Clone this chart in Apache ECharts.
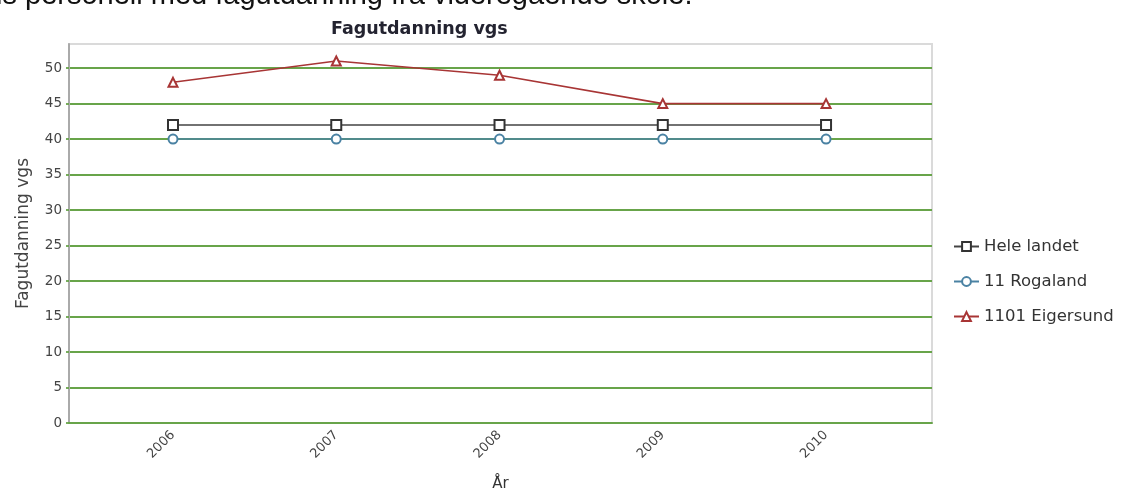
<!DOCTYPE html>
<html>
<head>
<meta charset="utf-8">
<script src="https://cdn.jsdelivr.net/npm/echarts@6/dist/echarts.min.js"></script>
<style>
html,body{margin:0;padding:0;background:#fff;}
#chart{width:1122px;height:494px;}
</style>
</head>
<body>
<div id="chart"></div>
<script>
const years = [2006, 2007, 2008, 2009, 2010];
const heleLandet = [42, 42, 42, 42, 42];
const rogaland = [40, 40, 40, 40, 40];
const eigersund = [48, 51, 49, 45, 45];
const seriesNames = ['Hele landet', '11 Rogaland', '1101 Eigersund'];
const yTicks = [0, 5, 10, 15, 20, 25, 30, 35, 40, 45, 50];

const pairs = vals => years.map((y, i) => [y, vals[i]]);
const green = '#68a44a';
const font = 'DejaVu Sans';

const chart = echarts.init(document.getElementById('chart'));
chart.setOption({
  animation: false,
  backgroundColor: '#fff',
  title: {
    text: 'Fagutdanning vgs',
    left: 326, top: 15,
    textStyle: {fontFamily: font, fontSize: 17.5, fontWeight: 'bold', color: '#232330'}
  },
  graphic: [
    {type: 'text', left: 25, top: -19, style: {text: 'personell med fagutdanning fra videregående skole.', font: '29px "Liberation Sans"', fill: '#111'}},
    {type: 'text', right: 1105, top: -19, style: {text: 'Andel av kommunens', font: '29px "Liberation Sans"', fill: '#111'}}
  ],
  legend: {
    orient: 'vertical',
    left: 948, top: 233,
    itemWidth: 25, itemHeight: 11, itemGap: 18,
    textStyle: {fontFamily: font, fontSize: 16.5, color: '#333'},
    data: seriesNames
  },
  grid: {
    left: 69, right: 190, top: 44, bottom: 71,
    outerBoundsMode: 'none', containLabel: false,
    show: true, borderColor: '#dadada', borderWidth: 2, backgroundColor: '#fff'
  },
  xAxis: {
    type: 'value',
    min: 2005.363, max: 2010.649,
    name: 'År', nameLocation: 'middle', nameGap: 54,
    nameTextStyle: {fontFamily: font, fontSize: 15, color: '#333'},
    axisLine: {show: true, lineStyle: {color: green, width: 1.8}},
    axisTick: {show: false},
    splitLine: {show: false},
    axisLabel: {
      customValues: years, rotate: 45, margin: 10,
      fontFamily: font, fontSize: 13, color: '#444',
      formatter: v => String(v)
    }
  },
  yAxis: {
    type: 'value',
    min: 0, max: 53.4, interval: 5,
    name: 'Fagutdanning vgs', nameLocation: 'middle', nameGap: 37,
    nameTextStyle: {fontFamily: font, fontSize: 17, color: '#444'},
    axisLine: {show: true, lineStyle: {color: '#aaaaaa', width: 2}},
    axisTick: {show: true, customValues: yTicks, length: 3, lineStyle: {color: green, width: 1.8}},
    splitLine: {show: true, lineStyle: {color: [green, green, green, green, green, green, green, green, green, green, green, 'rgba(0,0,0,0)'], width: 1.8}},
    axisLabel: {customValues: yTicks, margin: 7, fontFamily: font, fontSize: 13.5, color: '#444'}
  },
  series: [
    {name: seriesNames[0], type: 'line', data: pairs(heleLandet), symbol: 'emptyRect', symbolSize: 10,
     color: '#333333', lineStyle: {color: '#444', width: 1.5}, itemStyle: {borderWidth: 1.6}},
    {name: seriesNames[1], type: 'line', data: pairs(rogaland), symbol: 'emptyCircle', symbolSize: 9,
     color: '#4a82a3', lineStyle: {color: '#4a82a3', width: 1.5}, itemStyle: {borderWidth: 1.6}},
    {name: seriesNames[2], type: 'line', data: pairs(eigersund), symbol: 'emptyTriangle', symbolSize: 9,
     color: '#a83535', lineStyle: {color: '#a83535', width: 1.6}, itemStyle: {borderWidth: 1.6}}
  ]
});
</script>
</body>
</html>
